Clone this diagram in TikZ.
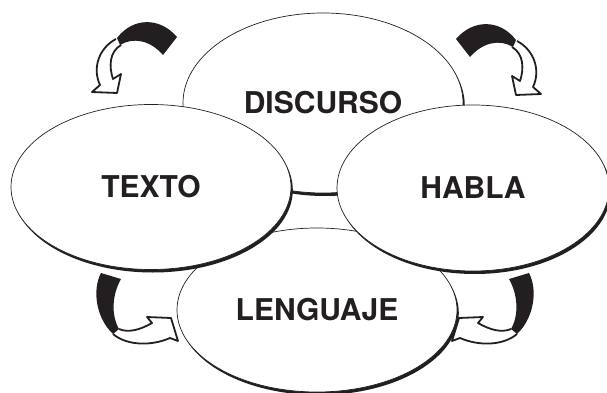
\documentclass[tikz,border=0pt]{standalone}
\usepackage{fontspec}
\setmainfont{TeX Gyre Heros}
\usetikzlibrary{shapes.geometric,shadows}
\definecolor{ink}{HTML}{231F20}
\tikzset{
  ell/.style={ellipse, draw=ink, line width=0.7pt, fill=white, inner sep=0pt,
    drop shadow={shadow xshift=1.8pt, shadow yshift=-3pt, fill=ink, opacity=1},
    font=\fontsize{30}{36}\selectfont\bfseries, text=ink},
  arrowline/.style={draw=ink, fill=white, line width=1.8pt, line join=round},
  band/.style={fill=ink}
}
\begin{document}
\begin{tikzpicture}[x=1pt,y=-1pt]
\useasboundingbox (0,0) rectangle (607,393);
% ellipses (back to front)
\node[ell, minimum width=280pt, minimum height=180pt] (discurso) at (323,103) {DISCURSO};
\node[ell, minimum width=280pt, minimum height=164pt] (lenguaje) at (317,310) {LENGUAJE};
\node[ell, minimum width=280pt, minimum height=165pt] (texto) at (151,187) {TEXTO};
\node[ell, minimum width=272pt, minimum height=166pt] (habla) at (473,188) {HABLA};
% top-left arrow
\begin{scope}
  \path[arrowline] (116,39) .. controls (99,48) and (92,68) .. (100,85) -- (92,92) -- (117,93) -- (121,74) -- (113,79) .. controls (109,67) and (109,52) .. (121,45);
  \fill[band] (117,38) .. controls (133,17) and (160,17) .. (177,37) -- (163,55) .. controls (150,40) and (133,37) .. (120,45) -- cycle;
\end{scope}
% top-right arrow (mirror)
\begin{scope}[xshift=633pt, xscale=-1, yshift=-2pt]
  \path[arrowline] (116,39) .. controls (99,48) and (92,68) .. (100,85) -- (92,92) -- (117,93) -- (121,74) -- (113,79) .. controls (109,67) and (109,52) .. (121,45);
  \fill[band] (117,38) .. controls (133,17) and (160,17) .. (177,37) -- (163,55) .. controls (150,40) and (133,37) .. (120,45) -- cycle;
\end{scope}
% bottom-left arrow
\begin{scope}
  \path[arrowline] (113,334) .. controls (127,346) and (152,346) .. (170,338) -- (178,341) -- (171,318) -- (147,317) -- (152,323) .. controls (140,330) and (128,333) .. (119,329);
  \fill[band] (101,273) -- (121,279) .. controls (112,295) and (111,315) .. (119,329) -- (113,334) .. controls (96,318) and (92,290) .. (101,273) -- cycle;
\end{scope}
% bottom-right arrow (mirror)
\begin{scope}[xshift=630pt, xscale=-1]
  \path[arrowline] (113,334) .. controls (127,346) and (152,346) .. (170,338) -- (178,341) -- (171,318) -- (147,317) -- (152,323) .. controls (140,330) and (128,333) .. (119,329);
  \fill[band] (101,273) -- (121,279) .. controls (112,295) and (111,315) .. (119,329) -- (113,334) .. controls (96,318) and (92,290) .. (101,273) -- cycle;
\end{scope}
\end{tikzpicture}
\end{document}
